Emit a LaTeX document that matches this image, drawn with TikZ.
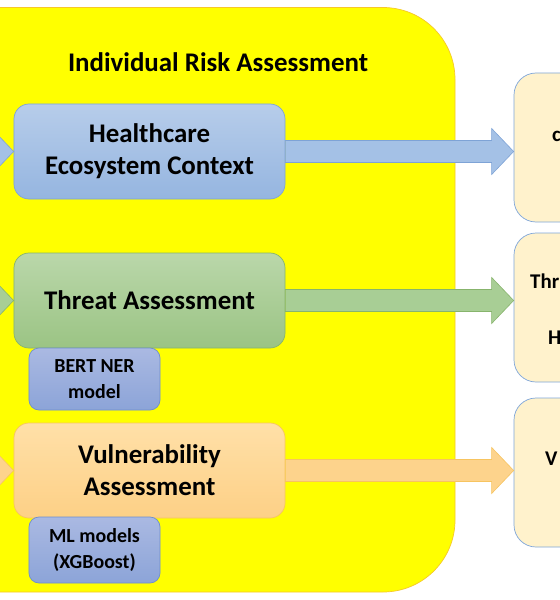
\documentclass[tikz,border=0pt]{standalone}
\usepackage{fontspec}
\setmainfont{Carlito}
\usetikzlibrary{calc}
\definecolor{ylwFill}{RGB}{255,255,0}
\definecolor{ylwLine}{RGB}{246,200,40}
\definecolor{blueTop}{RGB}{183,205,234}
\definecolor{blueBot}{RGB}{149,181,224}
\definecolor{blueLine}{RGB}{126,163,214}
\definecolor{blueArr}{RGB}{164,193,230}
\definecolor{greenTop}{RGB}{186,215,170}
\definecolor{greenBot}{RGB}{155,196,132}
\definecolor{greenLine}{RGB}{135,180,108}
\definecolor{greenArr}{RGB}{168,206,149}
\definecolor{orTop}{RGB}{255,224,168}
\definecolor{orBot}{RGB}{253,208,134}
\definecolor{orLine}{RGB}{247,196,96}
\definecolor{orArr}{RGB}{253,211,140}
\definecolor{purTop}{RGB}{170,185,226}
\definecolor{purBot}{RGB}{140,164,216}
\definecolor{purLine}{RGB}{110,142,207}
\definecolor{creamFill}{RGB}{255,242,204}
\definecolor{creamLine}{RGB}{126,166,218}
\tikzset{
  bigbox/.style={rounded corners=15bp, minimum width=271bp, minimum height=95bp,
    align=center, inner sep=0pt, line width=0.7bp,
    font=\bfseries\fontsize{27}{32}\selectfont},
  smallbox/.style={rounded corners=10bp, minimum width=131bp,
    align=center, inner sep=0pt, line width=0.7bp,
    top color=purTop, bottom color=purBot, draw=purLine,
    font=\bfseries\fontsize{20}{26}\selectfont},
  rbox/.style={rounded corners=22bp, minimum width=200bp, minimum height=149bp,
    inner sep=0pt, line width=0.7bp, fill=creamFill, draw=creamLine},
  rtext/.style={anchor=base west, inner sep=0pt, font=\bfseries\fontsize{21}{25}\selectfont},
  barrow/.style={line width=0.6bp, fill=blueArr, draw=blueLine},
  garrow/.style={line width=0.6bp, fill=greenArr, draw=greenLine},
  oarrow/.style={line width=0.6bp, fill=orArr, draw=orLine},
}
\newcommand{\blockarrow}[3]{%
  \draw[#1] let \p1=(#2), \p2=(#3) in
    (\x1,\y1+11bp) -- (\x2-22bp,\y1+11bp) -- (\x2-22bp,\y1+23bp) -- (\x2,\y1)
    -- (\x2-22bp,\y1-23bp) -- (\x2-22bp,\y1-11bp) -- (\x1,\y1-11bp) -- cycle;}
\begin{document}
\begin{tikzpicture}[x=1bp,y=-1bp]
\useasboundingbox (0,0) rectangle (560,600);
\fill[white] (0,0) rectangle (560,600);
\clip (0,0) rectangle (560,600);
% yellow container
\draw[fill=ylwFill, draw=ylwLine, line width=0.7bp, rounded corners=72bp]
  (-80,7.5) rectangle (455,592);
\node[font=\bfseries\fontsize{27}{32}\selectfont] (title) at (218,62) {Individual Risk Assessment};
% main boxes
\node[bigbox, top color=blueTop, bottom color=blueBot, draw=blueLine] (hc) at (149.5,151.5) {Healthcare\\Ecosystem Context};
\node[bigbox, top color=greenTop, bottom color=greenBot, draw=greenLine] (ta) at (149.5,300.5) {Threat Assessment};
\node[bigbox, top color=orTop, bottom color=orBot, draw=orLine] (va) at (149.5,470.5) {Vulnerability\\Assessment};
% model boxes
\node[smallbox, minimum height=62bp] (bert) at (94.5,379) {BERT NER\\model};
\node[smallbox, minimum height=66bp] (ml) at (94.5,550) {ML models\\(XGBoost)};
% right boxes
\node[rbox] (r1) at (614,147.5) {};
\node[rbox] (r2) at (614,307.5) {};
\node[rbox] (r3) at (614,472.5) {};
\node[rtext] (t1) at (552,142) {c};
\node[rtext] (t2) at (530,288) {Thr};
\node[rtext] (t3) at (548,344) {H};
\node[rtext] (t4) at (545,465) {V};
% incoming arrows
\coordinate (inA) at ($(hc.west)+(-80bp,0)$);
\coordinate (inB) at ($(ta.west)+(-80bp,0)$);
\coordinate (inC) at ($(va.west)+(-80bp,0)$);
\blockarrow{barrow}{inA}{hc.west}
\blockarrow{garrow}{inB}{ta.west}
\blockarrow{oarrow}{inC}{va.west}
% outgoing arrows
\blockarrow{barrow}{hc.east}{r1.west}
\blockarrow{garrow}{ta.east}{r2.west}
\blockarrow{oarrow}{va.east}{r3.west}
\end{tikzpicture}
\end{document}
